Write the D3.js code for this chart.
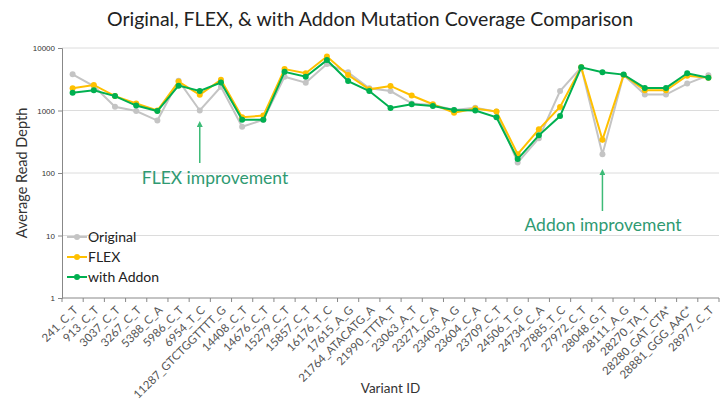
<!DOCTYPE html>
<html>
<head>
<meta charset="utf-8">
<script src="https://cdn.jsdelivr.net/npm/d3@7"></script>
<style>
  body { margin: 0; background: #fff; }
  svg { display: block; font-family: Lato, "Open Sans", sans-serif; }
</style>
</head>
<body>
<svg width="727" height="400"></svg>
<script>
const variants = [
  "241_C_T", "913_C_T", "3037_C_T", "3267_C_T", "5388_C_A", "5986_C_T", "6954_T_C",
  "11287_GTCTGGTTTT_G", "14408_C_T", "14676_C_T", "15279_C_T", "15857_C_T", "16176_T_C",
  "17615_A_G", "21764_ATACATG_A", "21990_TTTA_T", "23063_A_T", "23271_C_A", "23403_A_G",
  "23604_C_A", "23709_C_T", "24506_T_G", "24734_C_A", "27885_T_C", "27972_C_T",
  "28048_G_T", "28111_A_G", "28270_TA_T", "28280_GAT_CTA*", "28881_GGG_AAC*", "28977_C_T"
];

const original = [3800, 2460, 1150, 980, 690, 3000, 1000, 2400, 550, 710, 3470,
  2790, 5550, 4080, 2270, 2050, 1300, 1230, 1020, 1110, 960,
  147, 360, 2050, 4900, 200, 3700, 1800, 1800, 2700, 3650];
const flex = [2270, 2560, 1700, 1300, 1000, 2900, 1780, 3100, 780, 830, 4600,
  3940, 7300, 3700, 2180, 2470, 1740, 1260, 920, 1080, 960,
  200, 500, 1140, 4900, 340, 3700, 2100, 2100, 3600, 3330];
const addon = [1930, 2100, 1700, 1200, 980, 2500, 2050, 2800, 710, 710, 4150,
  3470, 6400, 2960, 2050, 1100, 1260, 1180, 1020, 1000, 780,
  167, 400, 815, 4900, 4080, 3750, 2300, 2300, 3950, 3330];

const yTicks = [1, 10, 100, 1000, 10000];

const series = [
  { name: "Original", values: original, color: "#c4c4c4" },
  { name: "FLEX", values: flex, color: "#ffc000" },
  { name: "with Addon", values: addon, color: "#00b050" }
];

const svg = d3.select("svg");
const plotLeft = 62, plotRight = 719, plotTop = 48, plotBottom = 298;

const x = d3.scaleBand().domain(variants).range([plotLeft, plotRight]);
const y = d3.scaleLog().domain([1, 10000]).range([plotBottom, plotTop]);

// title
svg.append("text")
  .attr("x", 370).attr("y", 26)
  .attr("text-anchor", "middle")
  .attr("font-size", 19.5)
  .attr("fill", "#222")
  .text("Original, FLEX, & with Addon Mutation Coverage Comparison");

// grid lines
svg.append("g")
  .selectAll("line")
  .data(yTicks.slice(1))
  .enter().append("line")
  .attr("x1", plotLeft).attr("x2", plotRight)
  .attr("y1", d => y(d)).attr("y2", d => y(d))
  .attr("stroke", "#dcdcdc").attr("stroke-width", 1);

// y axis
const yAxis = d3.axisLeft(y).tickValues(yTicks).tickFormat(d3.format("d")).tickSize(4);
const gy = svg.append("g")
  .attr("transform", `translate(${plotLeft},0)`)
  .call(yAxis);
gy.select(".domain").attr("stroke", "#888");
gy.selectAll(".tick line").attr("stroke", "#888");
gy.selectAll("text").attr("font-size", 8).attr("fill", "#333").attr("font-family", "Liberation Sans, sans-serif");

// x axis - ticks at category boundaries
const gx = svg.append("g")
  .attr("transform", `translate(0,${plotBottom})`);
gx.append("line")
  .attr("x1", plotLeft).attr("x2", plotRight)
  .attr("stroke", "#888");
gx.selectAll(".tk")
  .data(variants.concat(["_end"]))
  .enter().append("line")
  .attr("class", "tk")
  .attr("x1", (d, i) => plotLeft + i * x.bandwidth())
  .attr("x2", (d, i) => plotLeft + i * x.bandwidth())
  .attr("y1", 0).attr("y2", 4)
  .attr("stroke", "#888");
gx.selectAll("text")
  .data(variants)
  .enter().append("text")
  .attr("transform", d => `translate(${x(d) + x.bandwidth() / 2 + 3},${10}) rotate(-45)`)
  .attr("text-anchor", "end")
  .attr("dy", "0.35em")
  .attr("font-size", 11.5)
  .attr("fill", "#555")
  .text(d => d);

// axis titles
svg.append("text")
  .attr("transform", `translate(27,${(plotTop + plotBottom) / 2}) rotate(-90)`)
  .attr("text-anchor", "middle")
  .attr("font-size", 14.5)
  .attr("fill", "#333")
  .text("Average Read Depth");

svg.append("text")
  .attr("x", (plotLeft + plotRight) / 2).attr("y", 393)
  .attr("text-anchor", "middle")
  .attr("font-size", 13.5)
  .attr("fill", "#333")
  .text("Variant ID");

// lines and markers
const line = d3.line()
  .x((d, i) => x(variants[i]) + x.bandwidth() / 2)
  .y(d => y(d));

series.forEach(s => {
  svg.append("path")
    .datum(s.values)
    .attr("d", line)
    .attr("fill", "none")
    .attr("stroke", s.color)
    .attr("stroke-width", 2);
  svg.append("g")
    .selectAll("circle")
    .data(s.values)
    .enter().append("circle")
    .attr("cx", (d, i) => x(variants[i]) + x.bandwidth() / 2)
    .attr("cy", d => y(d))
    .attr("r", 3)
    .attr("fill", s.color);
});

// legend
const legend = svg.append("g").attr("transform", "translate(67,237)");
series.forEach((s, i) => {
  const g = legend.append("g").attr("transform", `translate(0,${i * 20})`);
  g.append("line").attr("x1", 0).attr("x2", 20).attr("stroke", s.color).attr("stroke-width", 2);
  g.append("circle").attr("cx", 10).attr("r", 3).attr("fill", s.color);
  g.append("text").attr("x", 21).attr("dy", "0.35em")
    .attr("font-size", 14).attr("fill", "#222").text(s.name);
});

// annotations
const annoColor = "#2f9a72";
svg.append("defs").append("marker")
  .attr("id", "arrow")
  .attr("viewBox", "0 0 10 10")
  .attr("refX", 5).attr("refY", 5)
  .attr("markerWidth", 4).attr("markerHeight", 4)
  .attr("orient", "auto-start-reverse")
  .append("path").attr("d", "M0,0 L10,5 L0,10 z").attr("fill", "#3dbb77");

const annos = [
  { label: "FLEX improvement", idx: 6, textX: 215, textY: 184, y1: 163, y2: 124 },
  { label: "Addon improvement", idx: 25, textX: 603, textY: 231, y1: 211, y2: 172 }
];
annos.forEach(a => {
  const cx = x(variants[a.idx]) + x.bandwidth() / 2;
  svg.append("line")
    .attr("x1", cx).attr("x2", cx)
    .attr("y1", a.y1).attr("y2", a.y2)
    .attr("stroke", "#3dbb77").attr("stroke-width", 1.5)
    .attr("marker-end", "url(#arrow)");
  svg.append("text")
    .attr("x", a.textX).attr("y", a.textY)
    .attr("text-anchor", "middle")
    .attr("font-size", 17.5)
    .attr("fill", annoColor)
    .text(a.label);
});
</script>
</body>
</html>
